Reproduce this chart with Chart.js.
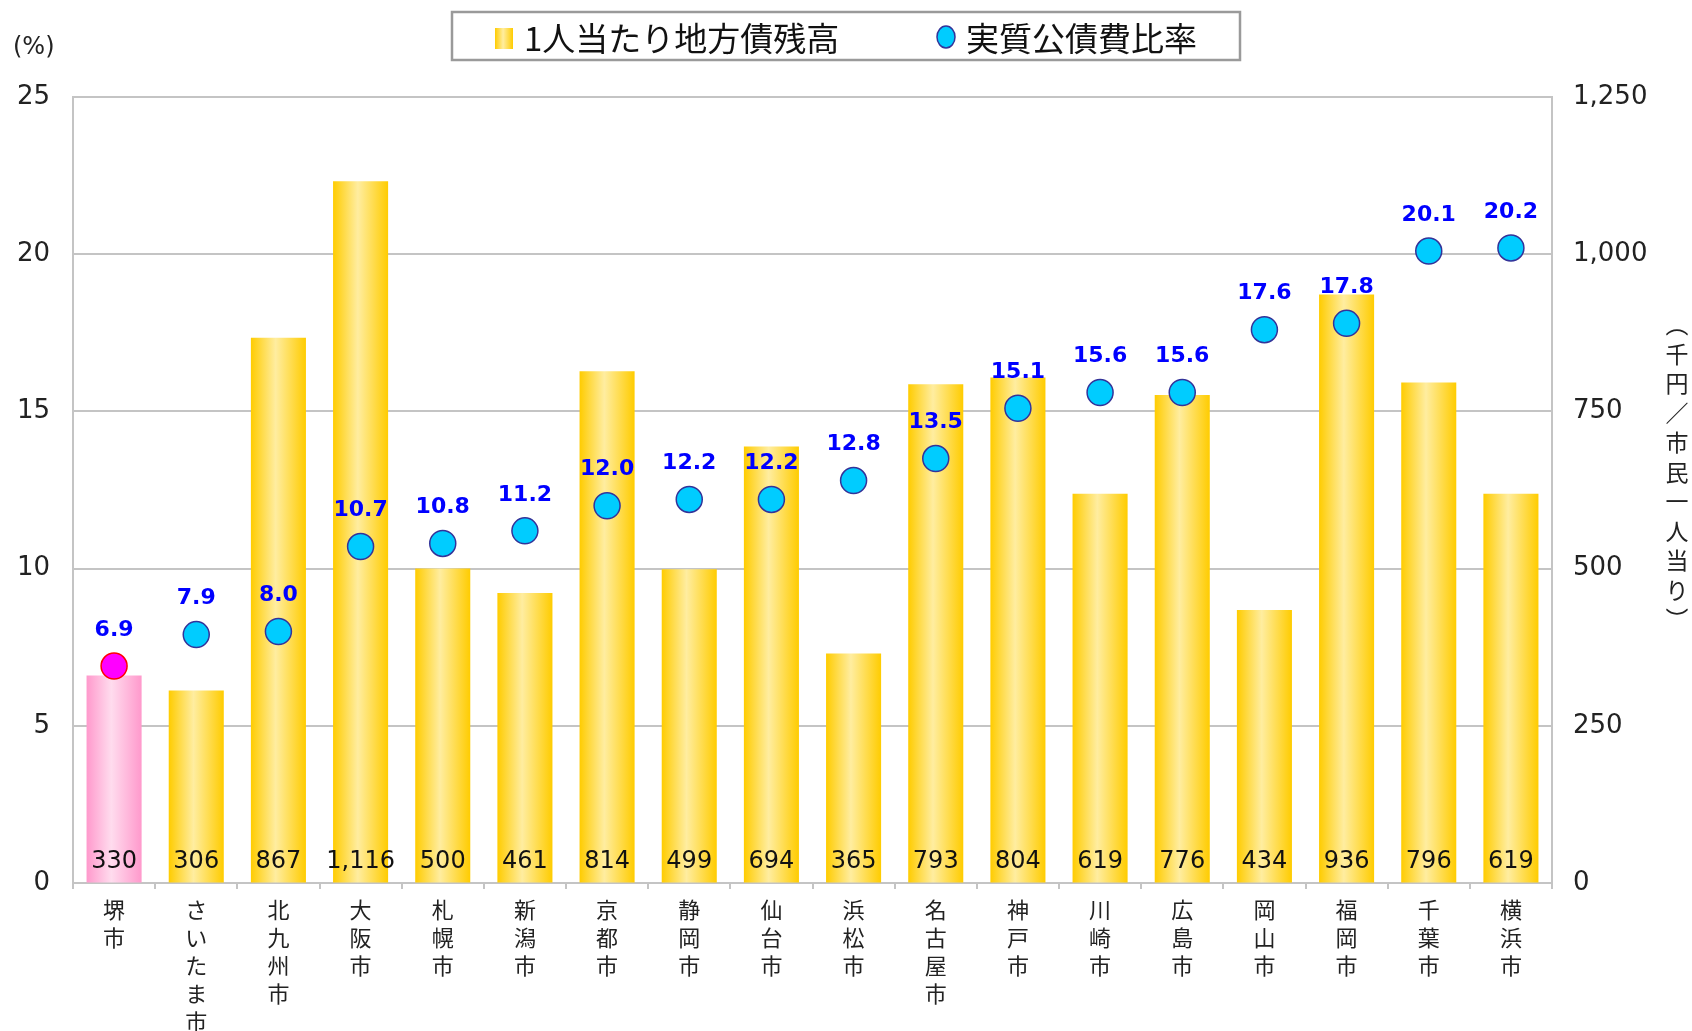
<!DOCTYPE html>
<html>
<head>
<meta charset="utf-8">
<script src="https://cdn.jsdelivr.net/npm/chart.js@4.4.1/dist/chart.umd.min.js"></script>
<style>
body { margin: 0; background: #fff; }
</style>
</head>
<body>
<canvas id="myChart" width="1692" height="1031"></canvas>
<script>
var cities = ['堺市', 'さいたま市', '北九州市', '大阪市', '札幌市', '新潟市', '京都市', '静岡市', '仙台市',
    '浜松市', '名古屋市', '神戸市', '川崎市', '広島市', '岡山市', '福岡市', '千葉市', '横浜市'];
var debtPerPerson = [330, 306, 867, 1116, 500, 461, 814, 499, 694, 365, 793, 804, 619, 776, 434, 936, 796, 619];
var debtRatio = [6.9, 7.9, 8.0, 10.7, 10.8, 11.2, 12.0, 12.2, 12.2, 12.8, 13.5, 15.1, 15.6, 15.6, 17.6, 17.8, 20.1, 20.2];
var ratioTicks = [0, 5, 10, 15, 20, 25];
var debtTicks = [0, 250, 500, 750, 1000, 1250];
var seriesNames = ['1人当たり地方債残高', '実質公債費比率'];
var leftTitle = '(%)';
var rightTitle = ['︵', '千', '円', '／', '市', '民', '一', '人', '当', 'り', '︶'];

var jpFont = '"Noto Sans CJK JP", sans-serif';
var numFont = '"DejaVu Sans", sans-serif';
var gray = '#c4c4c4';

function barGradient(ctx, x0, x1, edge, mid) {
    var g = ctx.createLinearGradient(x0, 0, x1, 0);
    g.addColorStop(0, edge);
    g.addColorStop(0.45, mid);
    g.addColorStop(1, edge);
    return g;
}

var decorPlugin = {
    id: 'decor',
    beforeDatasetsDraw: function (chart) {
        var ctx = chart.ctx;
        // each bar gets its own horizontal gradient
        chart.getDatasetMeta(1).data.forEach(function (bar, i) {
            var x0 = bar.x - bar.width / 2, x1 = bar.x + bar.width / 2;
            bar.options = Object.assign({}, bar.options, {
                backgroundColor: i === 0
                    ? barGradient(ctx, x0, x1, '#ff99cc', '#ffdcee')
                    : barGradient(ctx, x0, x1, '#ffcc00', '#ffeda0')
            });
        });
    },
    afterDatasetsDraw: function (chart) {
        var ctx = chart.ctx;
        ctx.save();
        ctx.textAlign = 'center';
        ctx.textBaseline = 'middle';
        // bar values at the bottom of each bar
        ctx.font = '24px ' + numFont;
        ctx.fillStyle = '#111';
        chart.getDatasetMeta(1).data.forEach(function (bar, i) {
            ctx.fillText(debtPerPerson[i].toLocaleString('en-US'), bar.x, bar.base - 21);
        });
        // ratio labels above points
        ctx.font = 'bold 22px ' + numFont;
        ctx.fillStyle = '#0000ff';
        chart.getDatasetMeta(0).data.forEach(function (pt, i) {
            ctx.fillText(debtRatio[i].toFixed(1), pt.x, pt.y - 36);
        });
        ctx.restore();
    },
    afterDraw: function (chart) {
        var ctx = chart.ctx;
        ctx.save();
        // axis titles
        ctx.fillStyle = '#222';
        ctx.textAlign = 'left';
        ctx.textBaseline = 'middle';
        ctx.font = '24px ' + numFont;
        ctx.fillText(leftTitle, 13, 48);
        ctx.textAlign = 'center';
        ctx.font = '23px ' + jpFont;
        for (var i = 0; i < rightTitle.length; i++) {
            ctx.fillText(rightTitle[i], 1677, 472 + (i - 5) * 29.5);
        }
        // legend
        ctx.fillStyle = '#fff';
        ctx.fillRect(452, 12, 788, 48);
        ctx.strokeStyle = '#9a9a9a';
        ctx.lineWidth = 2.5;
        ctx.strokeRect(452, 12, 788, 48);
        ctx.fillStyle = barGradient(ctx, 495, 513, '#ffcc00', '#ffeda0');
        ctx.fillRect(495, 28, 18, 21);
        ctx.beginPath();
        ctx.ellipse(946, 37, 9, 11, 0, 0, Math.PI * 2);
        ctx.fillStyle = '#00ccff';
        ctx.fill();
        ctx.strokeStyle = '#333399';
        ctx.lineWidth = 1.5;
        ctx.stroke();
        ctx.fillStyle = '#111';
        ctx.textAlign = 'left';
        ctx.font = '33px ' + jpFont;
        ctx.fillText(seriesNames[0], 524, 38);
        ctx.fillText(seriesNames[1], 966, 38);
        ctx.restore();
    }
};

function setTicks(values) {
    return function (scale) {
        scale.ticks = values.map(function (v) { return { value: v }; });
    };
}

var ctx = document.getElementById('myChart').getContext('2d');
var myChart = new Chart(ctx, {
    type: 'bar',
    data: {
        labels: cities.map(function (c) { return c.split(''); }),
        datasets: [
            {
                type: 'line',
                label: seriesNames[1],
                data: debtRatio,
                yAxisID: 'y',
                order: 0,
                showLine: false,
                pointRadius: 13,
                pointHoverRadius: 13,
                pointBorderWidth: 1.5,
                pointBackgroundColor: function (c) { return c.dataIndex === 0 ? '#ff00ff' : '#00ccff'; },
                pointBorderColor: function (c) { return c.dataIndex === 0 ? '#ff0000' : '#333399'; }
            },
            {
                type: 'bar',
                label: seriesNames[0],
                data: debtPerPerson,
                yAxisID: 'y1',
                order: 1,
                backgroundColor: function (c) { return c.dataIndex === 0 ? '#ff99cc' : '#ffcc00'; },
                barPercentage: 0.67,
                categoryPercentage: 1.0
            }
        ]
    },
    options: {
        responsive: false,
        animation: false,
        layout: { padding: { top: 97, left: 0, right: 0, bottom: 0 } },
        plugins: {
            legend: { display: false },
            tooltip: { enabled: false }
        },
        scales: {
            x: {
                grid: { display: true, drawOnChartArea: false, drawTicks: true, tickLength: 6, color: gray, lineWidth: 2 },
                border: { display: true, color: gray, width: 2 },
                ticks: {
                    autoSkip: false, maxRotation: 0, minRotation: 0, padding: 7, color: '#222',
                    font: { family: jpFont, size: 22, lineHeight: 1.27 }
                },
                afterFit: function (scale) { scale.height = 148; }
            },
            y: {
                position: 'left',
                min: 0, max: 25,
                afterBuildTicks: setTicks(ratioTicks),
                grid: { color: gray, lineWidth: 2, drawTicks: false },
                border: { display: true, color: gray, width: 2 },
                ticks: { padding: 23, color: '#222', font: { family: numFont, size: 26 } },
                afterFit: function (scale) { scale.width = 73; }
            },
            y1: {
                position: 'right',
                min: 0, max: 1250,
                afterBuildTicks: setTicks(debtTicks),
                grid: { drawOnChartArea: false, drawTicks: false },
                border: { display: true, color: gray, width: 2 },
                ticks: {
                    padding: 21, color: '#222', font: { family: numFont, size: 26 },
                    callback: function (v) { return v.toLocaleString('en-US'); }
                },
                afterFit: function (scale) { scale.width = 140; }
            }
        }
    },
    plugins: [decorPlugin]
});
</script>
</body>
</html>
